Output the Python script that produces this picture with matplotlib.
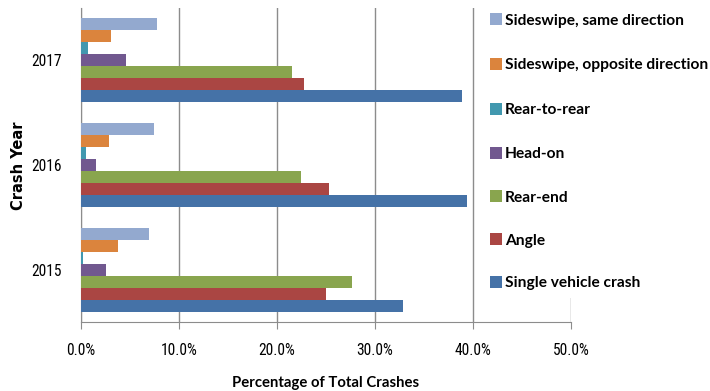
import matplotlib
matplotlib.use("Agg")
import matplotlib.pyplot as plt
import matplotlib.font_manager as fm
import numpy as np
from matplotlib.patches import Rectangle

names = {f.name for f in fm.fontManager.ttflist}
fam = 'Lato' if 'Lato' in names else 'DejaVu Sans'
tick_fam = 'Roboto Condensed' if 'Roboto Condensed' in names else fam
plt.rcParams['font.family'] = [fam, 'DejaVu Sans']

years = ["2015", "2016", "2017"]
series_names = ["Single vehicle crash", "Angle", "Rear-end", "Head-on",
                "Rear-to-rear", "Sideswipe, opposite direction", "Sideswipe, same direction"]
single_vehicle = [32.9, 39.4, 38.9]
angle = [25.0, 25.3, 22.8]
rear_end = [27.7, 22.4, 21.5]
head_on = [2.6, 1.5, 4.6]
rear_to_rear = [0.25, 0.5, 0.75]
sideswipe_opp = [3.75, 2.9, 3.1]
sideswipe_same = [6.9, 7.4, 7.75]
series_values = [single_vehicle, angle, rear_end, head_on, rear_to_rear, sideswipe_opp, sideswipe_same]
colors = ["#4572A7", "#AA4643", "#89A54E", "#71588F", "#4198AF", "#DB843D", "#93A9CF"]
xticks = [0, 10, 20, 30, 40, 50]
xtick_labels = ["0.0%", "10.0%", "20.0%", "30.0%", "40.0%", "50.0%"]

W, H = 710, 391
fig = plt.figure(figsize=(W/100, H/100), dpi=100)
renderer = fig.canvas.get_renderer()

def fit_size(text, width_px, weight='normal', base=11, family=None):
    kw = {} if family is None else {'family': family}
    t = fig.text(0, 0, text, fontsize=base, fontweight=weight, **kw)
    w = t.get_window_extent(renderer).width
    t.remove()
    return base * width_px / w

leg_fs = fit_size("Sideswipe, same direction", 178, 'bold')
tick_fs = min(12, fit_size("40.0%", 37, family=[tick_fam]))
xl_fs = fit_size("Percentage of Total Crashes", 187, 'bold')

ax = fig.add_axes([81/W, 1-322/H, (571-81)/W, (322-8)/H])

n = len(series_names)
bh = 0.8 / n
y = np.arange(len(years))
for i, (vals, c) in enumerate(zip(series_values, colors)):
    ax.barh(y - 0.4 + bh*(i+0.5), vals, height=bh, color=c, zorder=3)

ax.set_xlim(0, 50)
ax.set_ylim(-0.5, 2.5)
ax.set_xticks(xticks)
ax.set_xticklabels(xtick_labels, fontsize=tick_fs, family=[tick_fam, 'DejaVu Sans'])
ax.set_yticks(y)
ax.set_yticklabels(years, fontsize=tick_fs, family=[tick_fam, 'DejaVu Sans'])
ax.grid(axis='x', color='#8c8c8c', linewidth=1, zorder=0)
for s in ['top', 'right']:
    ax.spines[s].set_visible(False)
ax.spines['left'].set_color('#8c8c8c')
ax.spines['bottom'].set_color('#8c8c8c')
ax.tick_params(axis='x', direction='out', length=5, color='#8c8c8c', pad=10)
ax.tick_params(axis='y', length=0, pad=14)
ax.set_xlabel("Percentage of Total Crashes", fontsize=xl_fs, fontweight='bold', labelpad=13)
fig.text(19/W, 1-166/H, "Crash Year", rotation=90, ha='center', va='center',
         fontsize=10.5, fontweight='bold', family=['DejaVu Sans'])

# legend (white box over the plot's right part)
fig.patches.append(Rectangle((486/W, 1-298/H), (W-486)/W, 298/H, transform=fig.transFigure,
                             facecolor='white', edgecolor='none', zorder=5))
leg_y = [19, 64, 109, 153, 196, 239, 282]
for name, c, yy in zip(series_names[::-1], colors[::-1], leg_y):
    fig.patches.append(Rectangle((490/W, 1-(yy+6)/H), 12/W, 12/H, transform=fig.transFigure,
                                 facecolor=c, edgecolor='none', zorder=6))
    fig.text(505/W, 1-yy/H, name, ha='left', va='center_baseline', fontsize=leg_fs,
             fontweight='bold', zorder=7)

fig.savefig("out.png", dpi=100)
